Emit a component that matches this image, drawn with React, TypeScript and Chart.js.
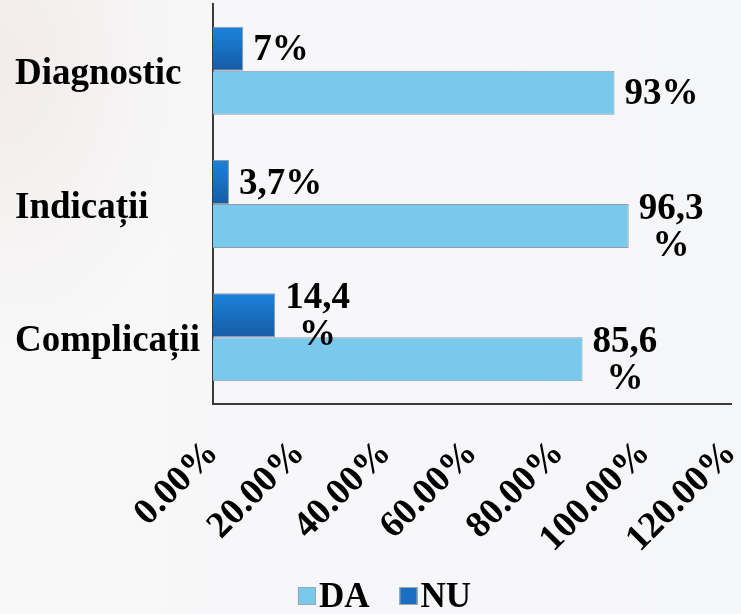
import React, { useEffect, useRef } from "react";
import { Chart, registerables } from "chart.js";

Chart.register(...registerables);

const categories = ["Diagnostic", "Indicații", "Complicații"];
const seriesNames = ["NU", "DA"];
const nuValues = [7, 3.7, 14.4];
const daValues = [93, 96.3, 85.6];
const xMin = 0;
const xMax = 120;
const xStep = 20;

const FONT = '"Liberation Serif", "Times New Roman", serif';
const NU_COLOR = "#1a6fc4";
const NU_TOP = "#1c82dc";
const NU_BOTTOM = "#165ca4";
const DA_COLOR = "#78c9ec";
const BAR_BORDER = "#8f9ba6";
const legendColors = [NU_COLOR, DA_COLOR];

const gradientPlugin = {
  id: "nuGradient",
  beforeDatasetsDraw(chart: any) {
    const ctx = chart.ctx;
    const meta = chart.getDatasetMeta(0);
    meta.data.forEach((bar: any) => {
      const h = bar.height;
      const g = ctx.createLinearGradient(0, bar.y - h / 2, 0, bar.y + h / 2);
      g.addColorStop(0, NU_TOP);
      g.addColorStop(1, NU_BOTTOM);
      bar.options.backgroundColor = g;
    });
  },
};

const dataLabelPlugin = {
  id: "dataLabels",
  afterDatasetsDraw(chart: any) {
    const ctx = chart.ctx;
    ctx.save();
    ctx.font = `bold 37px ${FONT}`;
    ctx.fillStyle = "#000";
    ctx.textBaseline = "middle";
    ctx.textAlign = "center";
    chart.data.datasets.forEach((ds: any, di: number) => {
      const meta = chart.getDatasetMeta(di);
      meta.data.forEach((bar: any, i: number) => {
        const v = ds.data[i];
        const num = String(v).replace(".", ",");
        const lines = num.length >= 4 ? [num, "%"] : [num + "%"];
        const w = Math.max(...lines.map((l) => ctx.measureText(l).width));
        const cx = bar.x + 10 + w / 2;
        const lh = 37;
        lines.forEach((l, k) => {
          ctx.fillText(l, cx, bar.y + (k - (lines.length - 1) / 2) * lh + 2);
        });
      });
    });
    ctx.restore();
  },
};

const legendPlugin = {
  id: "customLegend",
  afterDraw(chart: any) {
    const ctx = chart.ctx;
    ctx.save();
    ctx.font = `bold 35px ${FONT}`;
    ctx.textBaseline = "middle";
    ctx.textAlign = "left";
    const items = chart.data.datasets.map((d: any, i: number) => ({ label: d.label, color: legendColors[i] })).reverse();
    const box = 18;
    const gap = 3;
    const spacing = 30;
    const widths = items.map((d: any) => box + gap + ctx.measureText(d.label).width);
    const total = widths.reduce((a: number, b: number) => a + b, 0) + spacing * (items.length - 1);
    let x = chart.width / 2 + 14 - total / 2;
    const cy = 596;
    items.forEach((d: any, k: number) => {
      ctx.fillStyle = d.color;
      ctx.fillRect(x, cy - box / 2, box, box);
      ctx.strokeStyle = "#9aa6b0";
      ctx.lineWidth = 1;
      ctx.strokeRect(x + 0.5, cy - box / 2 + 0.5, box - 1, box - 1);
      ctx.fillStyle = "#000";
      ctx.fillText(d.label, x + box + gap, cy + 2);
      x += widths[k] + spacing;
    });
    ctx.restore();
  },
};

export default function App() {
  const ref = useRef<HTMLCanvasElement>(null);

  useEffect(() => {
    if (!ref.current) return;
    const chart = new Chart(ref.current, {
      type: "bar",
      data: {
        labels: categories,
        datasets: [
          {
            label: seriesNames[0],
            data: nuValues,
            backgroundColor: () => NU_COLOR,
            borderColor: BAR_BORDER,
            borderWidth: 1,
          },
          {
            label: seriesNames[1],
            data: daValues,
            backgroundColor: DA_COLOR,
            borderColor: BAR_BORDER,
            borderWidth: 1,
          },
        ],
      },
      options: {
        indexAxis: "y",
        animation: false,
        responsive: false,
        maintainAspectRatio: false,
        layout: { padding: { left: 15, top: 4, right: 10, bottom: 0 } },
        datasets: {
          bar: { categoryPercentage: 0.66, barPercentage: 1 },
        },
        plugins: {
          legend: { display: false },
          tooltip: { enabled: false },
        },
        scales: {
          x: {
            min: xMin,
            max: xMax,
            grid: { display: false, drawTicks: false },
            border: { display: true, color: "#3a3a3a", width: 2 },
            ticks: {
              stepSize: xStep,
              autoSkip: false,
              minRotation: 45,
              maxRotation: 45,
              padding: 28,
              color: "#000",
              font: { family: FONT, size: 37, weight: "bold" },
              callback: (v: any) => Number(v).toFixed(2) + "%",
            },
            afterFit: (s: any) => {
              s.height = 210;
              s.paddingLeft = 0;
              s.paddingRight = 0;
            },
          },
          y: {
            grid: { display: false, drawTicks: false },
            border: { display: true, color: "#3a3a3a", width: 2 },
            ticks: {
              crossAlign: "far",
              labelOffset: 4,
              color: "#000",
              font: { family: FONT, size: 37, weight: "bold" },
            },
            afterFit: (s: any) => {
              s.width = 198;
              s.paddingTop = 0;
              s.paddingBottom = 0;
            },
          },
        },
      },
      plugins: [gradientPlugin, dataLabelPlugin, legendPlugin],
    });
    return () => chart.destroy();
  }, []);

  return (
    <div
      style={{
        position: "fixed",
        left: 0,
        top: 0,
        width: 741,
        height: 614,
        background:
          "radial-gradient(ellipse 200px 300px at 0px 60px, rgba(240,232,230,0.8), rgba(246,247,249,0) 100%), linear-gradient(90deg, #f8f8f9 0%, #f7f7f9 35%, #f5f6f8 100%)",
      }}
    >
      <canvas ref={ref} width={741} height={614} style={{ display: "block" }} />
    </div>
  );
}
